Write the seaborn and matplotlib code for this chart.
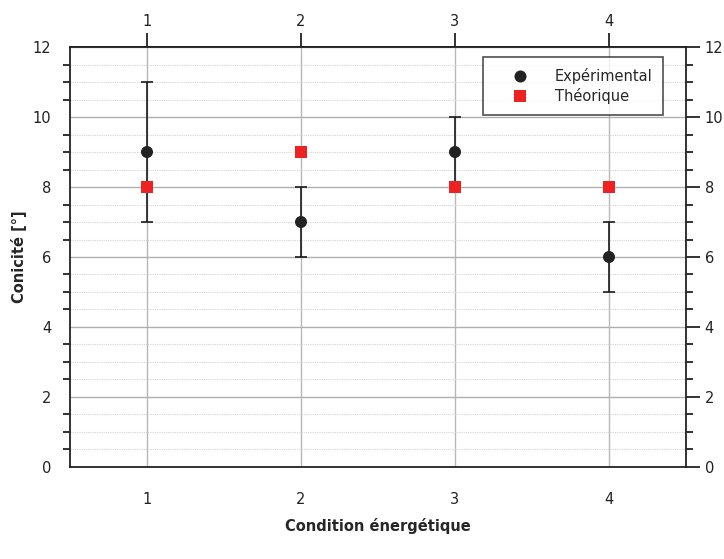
import numpy as np
import pandas as pd
import seaborn as sns
import matplotlib.pyplot as plt
from matplotlib.ticker import MultipleLocator

# =====================
# DATA
# =====================
conditions = [1, 2, 3, 4]
exp_values = [9, 7, 9, 6]
exp_err = [2, 1, 1, 1]
theo_values = [8, 9, 8, 8]

df = pd.DataFrame({
    "Condition": conditions * 2,
    "Conicite": exp_values + theo_values,
    "Serie": ["Expérimental"] * 4 + ["Théorique"] * 4,
})

sns.set_style("white")
plt.rcParams['font.family'] = ['DejaVu Sans']

fig = plt.figure(figsize=(7.24, 5.59), dpi=100)
ax = fig.add_axes([0.0967, 0.1646, 0.8508, 0.7513])

# grid
ax.set_axisbelow(True)
ax.yaxis.set_minor_locator(MultipleLocator(0.5))
ax.grid(axis='y', which='major', color='#b0b0b0', linewidth=1.0)
ax.grid(axis='y', which='minor', color='#d4d4d4', linewidth=0.8, linestyle=(0, (1, 1)))
ax.grid(axis='x', which='major', color='#b8b8b8', linewidth=1.0)

ax.errorbar(conditions, exp_values, yerr=exp_err, fmt='none',
            ecolor='#1a1a1a', elinewidth=1.2, capsize=4.5, capthick=1.2, zorder=2)

sns.scatterplot(data=df, x="Condition", y="Conicite", hue="Serie", style="Serie",
                palette={"Expérimental": "#222222", "Théorique": "#ee2222"},
                markers={"Expérimental": "o", "Théorique": "s"},
                s=75, linewidth=0, ax=ax, zorder=3)

ax.set_xlim(0.5, 4.5)
ax.set_ylim(0, 12)
ax.set_xticks(conditions)
ax.set_yticks(range(0, 13, 2))

for s in ax.spines.values():
    s.set_color('#222222')
    s.set_linewidth(1.3)

ax.tick_params(axis='both', which='major', direction='out', length=10, width=1.3,
               colors='#222222', labelsize=10.5, right=True, labelright=True, pad=3.5)
ax.tick_params(axis='x', which='major', pad=8, top=False)
ax.tick_params(axis='y', which='minor', direction='out', length=5, width=1.3,
               colors='#222222', left=True, right=True)
ax.tick_params(axis='x', which='minor', bottom=False, top=False)

# top axis with its own padding
top = ax.secondary_xaxis('top')
top.set_xticks(conditions)
top.tick_params(direction='out', length=10, width=1.3, colors='#222222',
                labelsize=10.5, pad=3)
top.spines['top'].set_linewidth(1.3)
top.spines['top'].set_color('#222222')

ax.set_xlabel("Condition énergétique", fontsize=10.5, fontweight='bold', labelpad=8)
ax.set_ylabel("Conicité [°]", fontsize=10.5, fontweight='bold', labelpad=4)

handles, labels = ax.get_legend_handles_labels()
leg = ax.legend(handles, labels, loc='upper right', bbox_to_anchor=(0.963, 0.976),
                frameon=True, fancybox=False, edgecolor='#222222', fontsize=10.5,
                handletextpad=0.65, borderpad=0.75, labelspacing=0.25,
                borderaxespad=0, markerscale=1.0, handlelength=3.5)
leg.get_frame().set_linewidth(1.2)

plt.savefig("out.png", dpi=100)
